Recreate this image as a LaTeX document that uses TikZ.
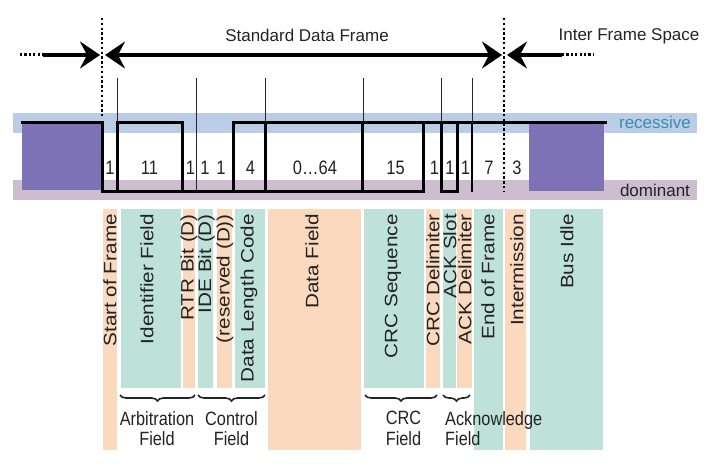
\documentclass[tikz,border=0pt]{standalone}
\usepackage{fontspec}
\setmainfont{Liberation Sans}
\usetikzlibrary{arrows.meta,decorations.pathreplacing}
\definecolor{recband}{RGB}{187,204,230}
\definecolor{domband}{RGB}{204,190,206}
\definecolor{idlepurple}{RGB}{126,114,182}
\definecolor{tealcol}{RGB}{190,226,218}
\definecolor{peachcol}{RGB}{250,217,190}
\definecolor{recblue}{RGB}{58,140,178}
\definecolor{txtgray}{RGB}{35,35,35}
\newcommand{\vst}[1]{\scalebox{1}[1.18]{#1}}
\newcommand{\hst}[1]{\scalebox{1.15}[1]{#1}}
\begin{document}
\begin{tikzpicture}[x=1pt,y=-1pt,
  wave/.style={line width=3pt, line join=miter, line cap=rect},
  guide/.style={line width=0.8pt, black!85},
  dotv/.style={line width=2.6pt, dash pattern=on 2.4pt off 2.4pt},
  doth/.style={line width=3pt, dash pattern=on 2.2pt off 2.2pt},
  arrowline/.style={line width=3.2pt},
  teal/.style={fill=tealcol, draw=none},
  peach/.style={fill=peachcol, draw=none},
  vlbl/.style={rotate=90, anchor=east, inner sep=0pt, text=txtgray, font=\fontsize{18}{20}\selectfont},
  bitlbl/.style={anchor=base, inner sep=0pt, text=txtgray, font=\fontsize{16.5}{20}\selectfont},
  toplbl/.style={anchor=base, inner sep=0pt, text=txtgray, font=\fontsize{17}{20}\selectfont},
  lowlbl/.style={inner sep=0pt, text=txtgray, font=\fontsize{16.3}{20.5}\selectfont},
  bracestyle/.style={decorate, decoration={brace, mirror, amplitude=6pt}, line width=1.6pt, txtgray}
]
\useasboundingbox (0,0) rectangle (720,468);
\fill[white] (0,0) rectangle (720,468);

% level bands
\fill[recband] (13,113) rectangle (697,133);
\fill[domband] (13,180) rectangle (697,200);

% bus idle boxes
\fill[idlepurple] (22,123) rectangle (102,190);
\fill[idlepurple] (529,124) rectangle (604,191);

% field columns
\fill[peach] (103,209) rectangle (117,450);
\fill[teal]  (121,209) rectangle (181,388);
\fill[peach] (183,209) rectangle (195,388);
\fill[teal]  (198,209) rectangle (213,388);
\fill[peach] (217,209) rectangle (232,388);
\fill[teal]  (235,209) rectangle (265,388);
\fill[peach] (268,209) rectangle (361,450);
\fill[teal]  (364,209) rectangle (424,388);
\fill[peach] (426,209) rectangle (440,388);
\fill[teal]  (443,209) rectangle (456,388);
\fill[peach] (457,209) rectangle (472,388);
\fill[teal]  (474,209) rectangle (503,450);
\fill[peach] (505,209) rectangle (526,450);
\fill[teal]  (530,209) rectangle (603,450);

% thin guide lines
\foreach \gx in {117,196,265,363,441,472}
  \draw[guide] (\gx,78) -- (\gx,191);

% waveform
\draw[wave] (22,123) -- (102,123) -- (102,191) -- (423,191) -- (423,123);
\draw[wave] (117,191) -- (117,123) -- (182,123) -- (182,191);
\draw[wave] (233,191) -- (233,123) -- (605,123);
\draw[wave] (441,123) -- (441,191) -- (457,191) -- (457,123);
\draw[wave] (265,123) -- (265,191);
\draw[wave] (362,123) -- (362,191);
\draw[wave,line width=2.2pt] (472,123) -- (472,191);

% frame boundaries
\coordinate (b1top) at (102,18);
\coordinate (b1bot) at (102,118);
\coordinate (b2top) at (504,18);
\coordinate (b2bot) at (504,191);
\draw[dotv] (b1top) -- (b1bot);
\draw[dotv] (b2top) -- (b2bot);

% arrows
\coordinate (l0) at (20,55);
\coordinate (l1) at (43,55);
\coordinate (l2) at (100,55);
\coordinate (m1) at (105,55);
\coordinate (m2) at (502,55);
\coordinate (r1) at (507,55);
\coordinate (r2) at (562,55);
\coordinate (r3) at (593,55);
\draw[doth] (l0) -- (l1);
\draw[arrowline, -{Stealth[length=20pt,width=27pt,inset=7pt]}] (l1) -- (l2);
\draw[arrowline, {Stealth[length=20pt,width=27pt,inset=7pt]}-{Stealth[length=20pt,width=27pt,inset=7pt]}] (m1) -- (m2);
\draw[arrowline, {Stealth[length=20pt,width=27pt,inset=7pt]}-] (r1) -- (r2);
\draw[doth] (r2) -- (r3);

% top labels
\node[toplbl] (sdf) at (307,42) {Standard Data Frame};
\node[toplbl] (ifs) at (629,41) {Inter Frame Space};

% level labels
\node[anchor=base, inner sep=0pt, text=recblue, font=\fontsize{17}{20}\selectfont] (rec) at (655,129) {recessive};
\node[anchor=base, inner sep=0pt, text=txtgray, font=\fontsize{17}{20}\selectfont] (dom) at (655,196.5) {dominant};

% bit counts
\node[bitlbl] (n1) at (110,174) {\vst{1}};
\node[bitlbl] (n2) at (149.5,174) {\vst{11}};
\node[bitlbl] (n3) at (190.5,174) {\vst{1}};
\node[bitlbl] (n4) at (205,174) {\vst{1}};
\node[bitlbl] (n5) at (221,174) {\vst{1}};
\node[bitlbl] (n6) at (250.5,174) {\vst{4}};
\node[bitlbl] (n7) at (315,174) {\vst{0…64}};
\node[bitlbl] (n8) at (395.5,174) {\vst{15}};
\node[bitlbl] (n9) at (434.5,174) {\vst{1}};
\node[bitlbl] (n10) at (450,174) {\vst{1}};
\node[bitlbl] (n11) at (465.5,174) {\vst{1}};
\node[bitlbl] (n12) at (489,174) {\vst{7}};
\node[bitlbl] (n13) at (517,174) {\vst{3}};

% vertical field labels
\node[vlbl] (sof) at (110,214) {\hst{Start of Frame}};
\node[vlbl] (idf) at (147,214) {\hst{Identifier Field}};
\node[vlbl] (rtr) at (189,214) {\hst{RTR Bit (D)}};
\node[vlbl] (ide) at (206.5,214) {\hst{IDE Bit (D)}};
\node[vlbl] (res) at (225,214) {\hst{(reserved (D))}};
\node[vlbl] (dlc) at (249,214) {\hst{Data Length Code}};
\node[vlbl] (daf) at (312,214) {\hst{Data Field}};
\node[vlbl] (crs) at (393,214) {\hst{CRC Sequence}};
\node[vlbl] (crd) at (433,214) {\hst{CRC Delimiter}};
\node[vlbl] (acs) at (450,214) {\hst{ACK Slot}};
\node[vlbl] (acd) at (465,214) {\hst{ACK Delimiter}};
\node[vlbl] (eof) at (488,214) {\hst{End of Frame}};
\node[vlbl] (itm) at (517,214) {\hst{Intermission}};
\node[vlbl] (bid) at (567,214) {\hst{Bus Idle}};

% braces
\draw[bracestyle] (120,395) -- (195,395);
\draw[bracestyle] (198,395) -- (265,395);
\draw[bracestyle] (365,395) -- (437,395);
\draw[bracestyle] (443,395) -- (470,395);

% group labels
\node[lowlbl, anchor=north, align=center] (arb) at (157,411) {\vst{Arbitration}\\\vst{Field}};
\node[lowlbl, anchor=north, align=center] (ctl) at (231.5,411) {\vst{Control}\\\vst{Field}};
\node[lowlbl, anchor=north, align=center] (crcf) at (403.5,411) {\vst{CRC}\\\vst{Field}};
\node[lowlbl, anchor=north west, align=left] (ackf) at (445,411) {\vst{Acknowledge}\\\vst{Field}};
\end{tikzpicture}
\end{document}
